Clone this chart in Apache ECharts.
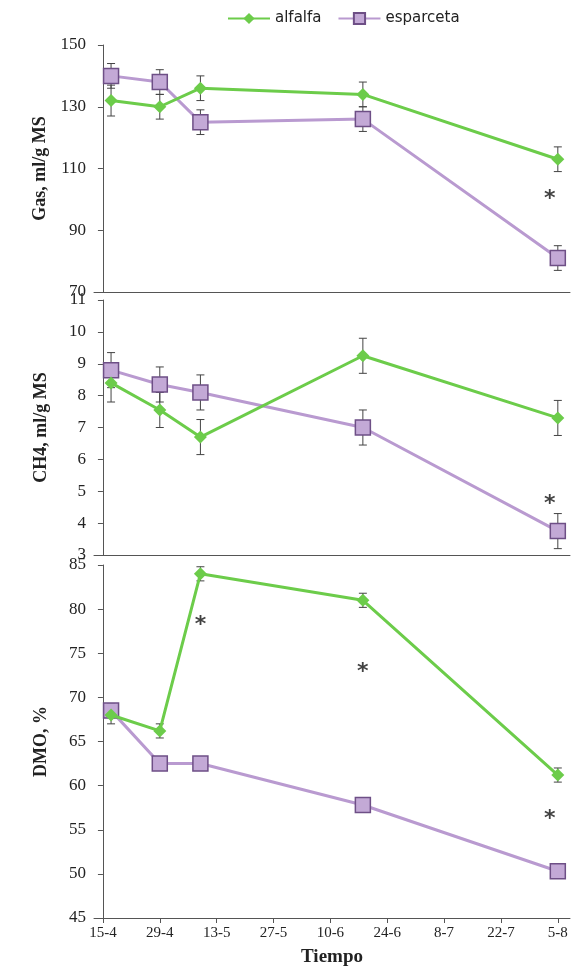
<!DOCTYPE html>
<html lang="es">
<head>
<meta charset="UTF-8">
<title>Gas, CH4, DMO</title>
<script src="https://cdn.jsdelivr.net/npm/echarts@6/dist/echarts.min.js"></script>
<style>body{margin:0}#c{width:578px;height:968px}</style>
</head>
<body>
<div id="c"></div>
<script>
// days from 15-4
var tickDays = [0, 14, 28, 42, 56, 70, 84, 98, 112];
var tickLabels = ['15-4', '29-4', '13-5', '27-5', '10-6', '24-6', '8-7', '22-7', '5-8'];
var days = [2, 14, 24, 64, 112];

var gasAlfalfa = [132, 130, 136, 134, 113];
var gasAlfalfaErr = [5, 4, 4, 4, 4];
var gasEsparceta = [140, 138, 125, 126, 81];
var gasEsparcetaErr = [4, 4, 4, 4, 4];

var ch4Alfalfa = [8.4, 7.55, 6.7, 9.25, 7.3];
var ch4AlfalfaErr = [0.6, 0.55, 0.55, 0.55, 0.55];
var ch4Esparceta = [8.8, 8.35, 8.1, 7.0, 3.75];
var ch4EsparcetaErr = [0.55, 0.55, 0.55, 0.55, 0.55];

var dmoAlfalfa = [68, 66.2, 84, 81, 61.2];
var dmoAlfalfaErr = [1, 0.8, 0.8, 0.8, 0.8];
var dmoEsparceta = [68.5, 62.5, 62.5, 57.8, 50.3];
var dmoEsparcetaErr = [0.8, 0.5, 0.5, 0.5, 0.5];

// [panel, day, value] of significance marks
var stars = [[0, 110, 100], [1, 110, 4.6], [2, 24, 78.2], [2, 64, 72.8], [2, 110, 56.2]];

var green = '#6ccc4a', purpleFill = '#c3a9d6', purpleLine = '#b99ad0', purpleEdge = '#6e4f86';
var serif = 'Liberation Serif';

var chart = echarts.init(document.getElementById('c'));
var grids = [
  {left: 94, right: 8, top: 45, height: 247},
  {left: 94, right: 8, top: 300, height: 255},
  {left: 94, right: 8, top: 565, height: 353}
];
var yCfg = [[70, 150, 20, 'Gas, ml/g MS'], [3, 11, 1, 'CH4, ml/g MS'], [45, 85, 5, 'DMO, %']];

var xAxes = grids.map(function (g, i) {
  return {
    type: 'value', gridIndex: i, min: -2.2, max: 115,
    axisLine: {lineStyle: {color: '#555'}},
    splitLine: {show: false},
    axisTick: {show: i === 2, customValues: tickDays, inside: false},
    axisLabel: {show: i === 2, customValues: tickDays, fontFamily: serif, fontSize: 15, color: '#222',
      formatter: function (v) { return tickLabels[tickDays.indexOf(v)]; }},
    name: i === 2 ? 'Tiempo' : '', nameLocation: 'middle', nameGap: 30,
    nameTextStyle: {fontFamily: serif, fontSize: 19, fontWeight: 'bold', color: '#222'}
  };
});
var yAxes = yCfg.map(function (c, i) {
  return {
    type: 'value', gridIndex: i, min: c[0], max: c[1], interval: c[2],
    axisLine: {show: true, lineStyle: {color: '#555'}},
    axisTick: {show: true}, splitLine: {show: false},
    axisLabel: {fontFamily: serif, fontSize: 17, color: '#222'},
    name: c[3], nameLocation: 'middle', nameGap: 44,
    nameTextStyle: {fontFamily: serif, fontSize: 18, fontWeight: 'bold', color: '#222'}
  };
});

function pts(v) { return v.map(function (y, k) { return [days[k], y]; }); }
function errSeries(v, e, i, color) {
  return {
    type: 'custom', xAxisIndex: i, yAxisIndex: i, z: 1,
    data: v.map(function (y, k) { return [days[k], y - e[k], y + e[k]]; }),
    renderItem: function (p, api) {
      var lo = api.coord([api.value(0), api.value(1)]);
      var hi = api.coord([api.value(0), api.value(2)]);
      var s = {stroke: color, lineWidth: 1};
      return {type: 'group', children: [
        {type: 'line', shape: {x1: lo[0], y1: lo[1], x2: hi[0], y2: hi[1]}, style: s},
        {type: 'line', shape: {x1: lo[0] - 4, y1: lo[1], x2: lo[0] + 4, y2: lo[1]}, style: s},
        {type: 'line', shape: {x1: hi[0] - 4, y1: hi[1], x2: hi[0] + 4, y2: hi[1]}, style: s}
      ]};
    }
  };
}
function alf(v, i) {
  return {name: 'alfalfa', type: 'line', xAxisIndex: i, yAxisIndex: i, data: pts(v), z: 3,
    symbol: 'diamond', symbolSize: 13, lineStyle: {color: green, width: 3},
    itemStyle: {color: green}};
}
function esp(v, i) {
  return {name: 'esparceta', type: 'line', xAxisIndex: i, yAxisIndex: i, data: pts(v), z: 2,
    symbol: 'rect', symbolSize: 15, lineStyle: {color: purpleLine, width: 3},
    itemStyle: {color: purpleFill, borderColor: purpleEdge, borderWidth: 1.5}};
}
var series = [];
var sets = [[gasAlfalfa, gasAlfalfaErr, gasEsparceta, gasEsparcetaErr],
  [ch4Alfalfa, ch4AlfalfaErr, ch4Esparceta, ch4EsparcetaErr],
  [dmoAlfalfa, dmoAlfalfaErr, dmoEsparceta, dmoEsparcetaErr]];
sets.forEach(function (s, i) {
  series.push(errSeries(s[2], s[3], i, '#444'), errSeries(s[0], s[1], i, '#444'), esp(s[2], i), alf(s[0], i));
  series.push({type: 'scatter', xAxisIndex: i, yAxisIndex: i, symbolSize: 0, silent: true,
    data: stars.filter(function (t) { return t[0] === i; }).map(function (t) { return [t[1], t[2]]; }),
    label: {show: true, position: 'inside', formatter: '*', fontSize: 22, fontWeight: 'bold', color: '#111', fontFamily: 'DejaVu Sans'}});
});

chart.setOption({
  animation: false,
  legend: {top: 6, left: 222, data: ['alfalfa', 'esparceta'], itemWidth: 42, itemHeight: 14, itemGap: 16,
    textStyle: {fontFamily: 'DejaVu Sans', fontSize: 15, color: '#222'}},
  grid: grids, xAxis: xAxes, yAxis: yAxes, series: series
});
</script>
</body>
</html>
